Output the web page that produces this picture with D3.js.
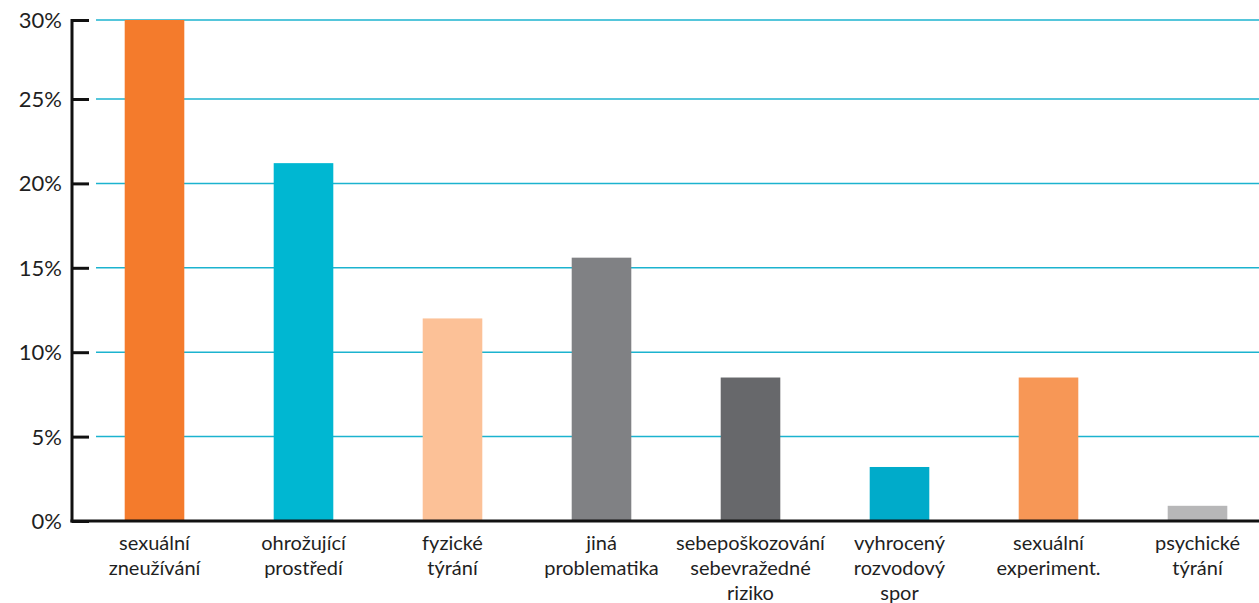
<!DOCTYPE html>
<html>
<head>
<meta charset="utf-8">
<script src="https://cdn.jsdelivr.net/npm/d3@7"></script>
<style>
    body { margin: 0; background: #fff; }
    svg text { font-family: Lato, 'Open Sans', sans-serif; fill: #1f1f1f; }
</style>
</head>
<body>
<svg id="chart" width="1259" height="603"></svg>
<script>
/* ---------------- DATA ---------------- */
let categories = [
    ['sexuální', 'zneužívání'],
    ['ohrožující', 'prostředí'],
    ['fyzické', 'týrání'],
    ['jiná', 'problematika'],
    ['sebepoškozování', 'sebevražedné', 'riziko'],
    ['vyhrocený', 'rozvodový', 'spor'],
    ['sexuální', 'experiment.'],
    ['psychické', 'týrání']
]
let values = [30, 21.2, 12, 15.6, 8.5, 3.2, 8.5, 0.9]
let barColors = ['#f47b2c', '#00b7d2', '#fcc197', '#808184', '#67686b', '#00abca', '#f79756', '#b7b7b8']
let yTicks = [0, 5, 10, 15, 20, 25, 30]

/* ---------------- CHART ---------------- */
let svg = d3.select('#chart')
let axisX = 72, baseY = 521

let x = d3.scaleBand()
    .domain(d3.range(values.length))
    .range([80, 1272])
    .paddingInner(0.6).paddingOuter(0.3)

// top step of the original axis is slightly compressed
let y = d3.scaleLinear().domain([0, 25, 30]).range([baseY, 99, 20])

// gridlines
svg.append('g')
    .selectAll('line')
    .data(yTicks.filter(d => d > 0))
    .enter().append('line')
    .attr('x1', 96).attr('x2', 1259)
    .attr('y1', d => y(d)).attr('y2', d => y(d))
    .attr('stroke', '#1cb3cf').attr('stroke-width', 1.5)

// bars
svg.append('g')
    .selectAll('rect')
    .data(values)
    .enter().append('rect')
    .attr('x', (d, i) => x(i))
    .attr('y', d => y(d))
    .attr('width', x.bandwidth())
    .attr('height', d => baseY - y(d))
    .attr('fill', (d, i) => barColors[i])

// y axis
let yAxis = svg.append('g')
    .attr('transform', 'translate(' + axisX + ',0)')
    .call(d3.axisRight(y).tickValues(yTicks).tickSize(17).tickFormat(''))
yAxis.select('.domain').remove()
yAxis.selectAll('.tick line').attr('stroke', '#111').attr('stroke-width', 3)

svg.append('g')
    .selectAll('text')
    .data(yTicks)
    .enter().append('text')
    .attr('x', 62)
    .attr('y', d => y(d) + 8)
    .attr('text-anchor', 'end')
    .attr('font-size', 22)
    .text(d => d + '%')

svg.append('line')
    .attr('x1', axisX).attr('x2', axisX)
    .attr('y1', 19).attr('y2', baseY + 1.5)
    .attr('stroke', '#111').attr('stroke-width', 3)

// x axis
svg.append('line')
    .attr('x1', axisX - 1.5).attr('x2', 1259)
    .attr('y1', baseY).attr('y2', baseY)
    .attr('stroke', '#111').attr('stroke-width', 3)

let labels = svg.append('g')
    .selectAll('text')
    .data(categories)
    .enter().append('text')
    .attr('text-anchor', 'middle')
    .attr('font-size', 20)
    .attr('transform', (d, i) => 'translate(' + (x(i) + x.bandwidth() / 2) + ',550)')

labels.selectAll('tspan')
    .data(d => d)
    .enter().append('tspan')
    .attr('x', 0)
    .attr('y', (d, i) => i * 25)
    .text(d => d)
</script>
</body>
</html>
